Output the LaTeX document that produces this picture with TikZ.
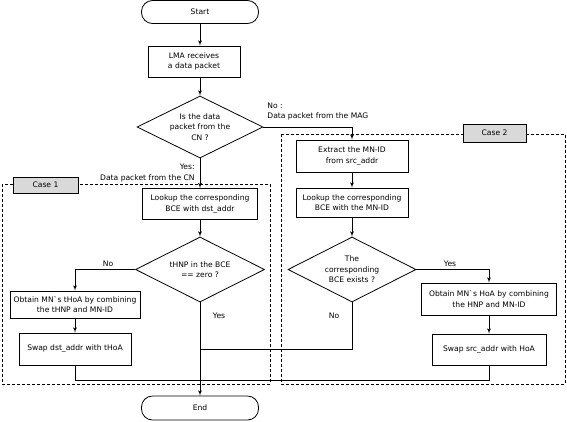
\documentclass[tikz,border=0pt]{standalone}
\usepackage{fontspec}
\setmainfont{DejaVu Sans}
\usetikzlibrary{arrows,shapes.geometric}
\newcommand{\flowfont}{\fontsize{7.6pt}{10.5pt}\selectfont}

\begin{document}
\begin{tikzpicture}[x=1pt,y=-1pt,line width=0.8pt,every node/.style={font=\flowfont}]
        \tikzset{term/.style = {draw,rounded corners=11pt,minimum width=117pt,minimum height=23pt}};
        \tikzset{proc/.style = {draw,align=center,inner sep=1pt}};
        \tikzset{decision/.style = {draw,diamond,aspect=2,align=center,inner sep=0pt}};
        \tikzset{edge/.style = {->,> = latex'}};
        \tikzset{casebox/.style = {draw,dash pattern=on 3pt off 2pt}};
        \tikzset{caselabel/.style = {draw,fill=gray!30}};
        \tikzset{lbl/.style = {inner sep=0pt}};
        \useasboundingbox (0,0) rectangle (567,421);
        % case frames
        \draw[casebox] (2,184) rectangle (270,384);
        \draw[casebox] (281,134) rectangle (565,384);
        \node[caselabel,minimum width=65pt,minimum height=16pt] (case1) at (45.5,185) {Case 1};
        \node[caselabel,minimum width=63pt,minimum height=18pt] (case2) at (494.5,133) {Case 2};
        % main flow
        \node[term] (start) at (200,12) {Start};
        \node[proc,minimum width=92pt,minimum height=31pt] (lma) at (194,61.5) {LMA receives\\a data packet};
        \node[decision,minimum width=126pt,minimum height=62pt] (cn) at (200,127) {Is the data\\packet from the\\CN ?};
        \node[proc,minimum width=115pt,minimum height=31pt] (lookdst) at (200,204) {Lookup the corresponding\\BCE with dst\_addr};
        \node[decision,minimum width=129pt,minimum height=65pt] (zero) at (200,269.5) {tHNP in the BCE\\== zero ?};
        \node[proc,minimum width=130pt,minimum height=27pt] (thoa) at (75,304.5) {Obtain MN\textasciigrave s tHoA by combining\\the tHNP and MN-ID};
        \node[proc,minimum width=112pt,minimum height=32pt] (swapdst) at (75,349) {Swap dst\_addr with tHoA};
        \node[proc,minimum width=112pt,minimum height=32pt] (extract) at (352,156) {Extract the MN-ID\\from src\_addr};
        \node[proc,minimum width=112pt,minimum height=29pt] (lookid) at (352,202.5) {Lookup the corresponding\\BCE with the MN-ID};
        \node[decision,minimum width=128pt,minimum height=65pt] (exists) at (352,269.5) {The\\corresponding\\BCE exists ?};
        \node[proc,minimum width=135pt,minimum height=32pt] (hoa) at (489,299) {Obtain MN\textasciigrave s HoA by combining\\the HNP and MN-ID};
        \node[proc,minimum width=114pt,minimum height=31pt] (swapsrc) at (489,349.5) {Swap src\_addr with HoA};
        \node[term,minimum height=24pt] (end) at (200,408) {End};
        \coordinate (jnmid) at (200,349);
        \coordinate (jnlow) at (200,380);
        % branch labels
        \node[lbl,anchor=west,align=left] (nomag) at (267,111.5) {No :\\Data packet from the MAG};
        \node[lbl,anchor=east,align=right] (yescn) at (195,173) {Yes:\\Data packet from the CN};
        \node[lbl] (nozero) at (108,264) {No};
        \node[lbl] (yeszero) at (219,316) {Yes};
        \node[lbl] (noexists) at (334,316) {No};
        \node[lbl] (yesexists) at (450,264) {Yes};
        % connectors
        \draw[edge] (start.south) -- (start.south |- lma.north);
        \draw[edge] (cn.north |- lma.south) -- (cn.north);
        \draw[edge] (cn.east) -| (extract.north);
        \draw[edge] (cn.south) -- (lookdst.north);
        \draw[edge] (lookdst.south) -- (zero.north);
        \draw[edge] (zero.west) -| (thoa.north);
        \draw[edge] (thoa) -- (swapdst);
        \draw (swapdst.south) |- (jnlow);
        \draw[edge] (zero.south) -- (end.north);
        \draw[edge] (extract) -- (lookid);
        \draw[edge] (lookid.south) -- (exists.north);
        \draw[edge] (exists.east) -| (hoa.north);
        \draw[edge] (hoa) -- (swapsrc);
        \draw (swapsrc.south) |- (jnlow);
        \draw (exists.south) |- (jnmid);
\end{tikzpicture}
\end{document}
